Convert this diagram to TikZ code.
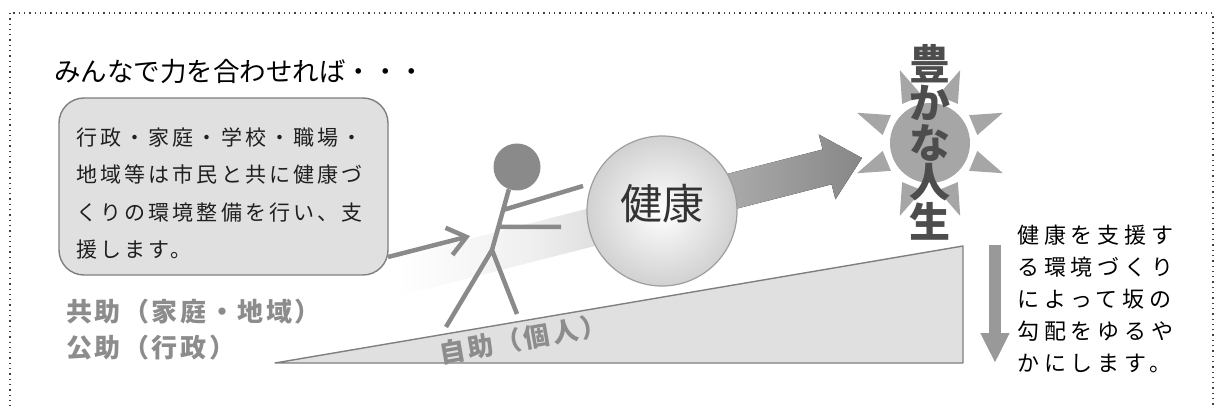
\documentclass[tikz,border=0pt]{standalone}
\usepackage{fontspec}
\newfontfamily\jp{Noto Sans CJK JP}
\usetikzlibrary{arrows.meta}

\definecolor{figgray}{HTML}{8A8A8A}
\definecolor{panelgray}{HTML}{E0E0E0}
\definecolor{edgegray}{HTML}{7F7F7F}
\definecolor{sungray}{HTML}{A6A6A6}
\definecolor{darktext}{HTML}{4D4D4D}
\definecolor{labelgray}{HTML}{8C8C8C}

\pgfdeclarehorizontalshading{bandfade}{100bp}{color(0bp)=(white); color(28bp)=(white);
  color(55bp)=(black!6); color(75bp)=(black!15); color(100bp)=(black!15)}

\begin{document}
\begin{tikzpicture}[x=1pt,y=-1pt,line join=round,
  every node/.style={inner sep=0pt},
  frame/.style={draw=black!75,line width=1.3pt,dash pattern=on 1.3pt off 4pt},
  bubble/.style={draw=edgegray,line width=1.4pt,fill=panelgray,rounded corners=25pt},
  stick/.style={draw=figgray,line width=4.5pt},
  ramp/.style={draw=edgegray,line width=1.4pt,fill=panelgray},
  helptext/.style={text=labelgray,font={\jp\bfseries\fontsize{26}{36}\selectfont\addfontfeatures{LetterSpace=10}}},
  sunray/.style={fill=sungray}]

\useasboundingbox (0,0) rectangle (1216,406);
\clip (0,0) rectangle (1216,406);
\draw [frame] (10,13) rectangle (1213,450);

% band behind the ball, pointing at the sun
\coordinate (goal) at (862,158);
\begin{scope}[shift={(goal)},rotate=14.36]
  \shade [shading=bandfade]
    (-490,-19) -- (-250,-19) -- (-250,19) -- (-490,19) -- cycle;
  \fill [left color=black!30,right color=black!47]
    (-167,-18) -- (-36,-18) -- (-36,-33.5) -- (0,0) -- (-36,33.5) -- (-36,18) -- (-167,18) -- cycle;
\end{scope}

\draw [ramp] (275,363) -- (963,246) -- (963,363) -- cycle;
\node [helptext,rotate=10] (selfhelp) at (523,339) {自助（個人）};

% the pusher
\node [circle,fill=figgray,minimum size=47pt] (head) at (517,167) {};
\coordinate (hip) at (492,250);
\draw [stick] (head.250) -- (hip) -- (446,327) (hip) -- (517,314)
  (503,210) -- (583,186) (498,227) -- (561,227);

\node [circle,draw=black!38,line width=1.2pt,inner color=white,outer color=black!18,
  minimum size=150pt] (ball) at (662,211) {};
\node [text=black!80,font={\jp\fontsize{42}{42}\selectfont}] (health) at (662,204) {健康};

\node [bubble,minimum width=329pt,minimum height=177pt] (box) at (223.5,186.5) {};
\node [anchor=west,align=left,text=black!88,
  font={\jp\fontsize{21}{37.5}\selectfont\addfontfeatures{LetterSpace=15}}] (boxtext) at (76,193.5)
  {行政・家庭・学校・職場・\\地域等は市民と共に健康づ\\くりの環境整備を行い、支\\援します。};
\coordinate (tail) at (388,257);
\coordinate (push) at (470,236);
\draw [figgray,line width=4.5pt,-{Straight Barb[length=18pt,width=28pt]}] (tail) -- (push);

\node [anchor=west,font={\jp\fontsize{26.5}{30}\selectfont}] (title) at (54,71.5) {みんなで力を合わせれば・・・};
\node [helptext,anchor=west,align=left] (mutual) at (66,329.5) {共助（家庭・地域）\\公助（行政）};

% sun
\node [circle,fill=sungray,minimum size=80pt] (sun) at (930,143) {};
\foreach \a in {22.5,67.5,...,337.5}
  \fill [sunray] ([shift={(\a-13:48)}]sun.center) -- ([shift={(\a:79)}]sun.center)
    -- ([shift={(\a+13:48)}]sun.center) -- cycle;
\node [align=center,text=darktext,font={\jp\bfseries\fontsize{41}{39.5}\selectfont}] (life) at (930,142)
  {豊\\か\\な\\人\\生};

\coordinate (slopetop) at (995,245);
\coordinate (slopebot) at (995,363);
\draw [black!40,line width=12pt,-{Triangle[length=30pt,width=27pt]}] (slopetop) -- (slopebot);
\node [anchor=west,align=left,
  font={\jp\fontsize{22}{32}\selectfont\addfontfeatures{LetterSpace=22}}] (note) at (1017,299)
  {健康を支援す\\る環境づくり\\によって坂の\\勾配をゆるや\\かにします。};

\end{tikzpicture}
\end{document}
